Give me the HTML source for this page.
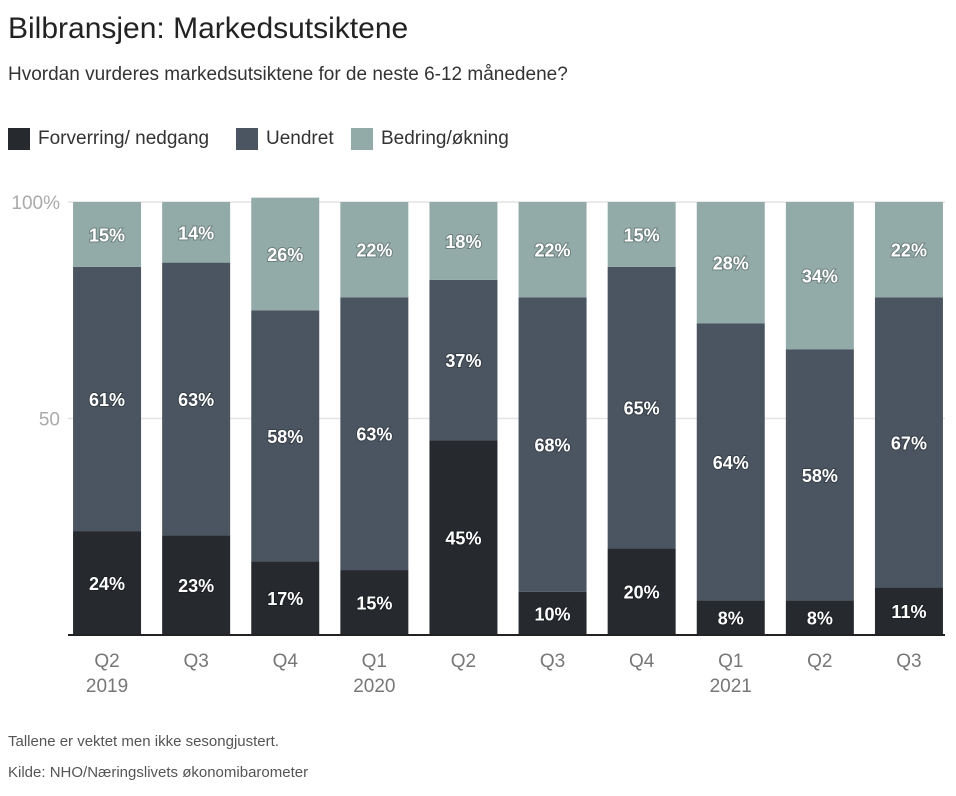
<!DOCTYPE html>
<html><head><meta charset="utf-8">
<style>
body{margin:0;width:956px;height:796px;background:#fff;font-family:"Liberation Sans",sans-serif;overflow:hidden}
#title{position:absolute;left:8px;top:12px;font-size:30px;color:#222}
#subtitle{position:absolute;left:8px;top:64px;font-size:19px;color:#333}
.leg{position:absolute;top:128px;font-size:19px;color:#333;display:flex;align-items:center}
.leg span{display:inline-block;width:22px;height:22px;margin-right:8px}
.note{position:absolute;left:8px;font-size:15px;color:#555}
svg{position:absolute;left:0;top:0}
</style></head><body>
<div id="title">Bilbransjen: Markedsutsiktene</div>
<div id="subtitle">Hvordan vurderes markedsutsiktene for de neste 6-12 månedene?</div>
<div class="leg" style="left:8px"><span style="background:#262a2f"></span>Forverring/ nedgang</div>
<div class="leg" style="left:236px"><span style="background:#4a5561"></span>Uendret</div>
<div class="leg" style="left:351px"><span style="background:#93aba8"></span>Bedring/økning</div>
<svg id="chart" width="956" height="796"></svg>
<div class="note" style="top:733px">Tallene er vektet men ikke sesongjustert.</div>
<div class="note" style="top:764px">Kilde: NHO/Næringslivets økonomibarometer</div>
<script>
const quarters=["Q2","Q3","Q4","Q1","Q2","Q3","Q4","Q1","Q2","Q3"];
const years=["2019","","","2020","","","","2021","",""];
const worse=[24,23,17,15,45,10,20,8,8,11];
const same=[61,63,58,63,37,68,65,64,58,67];
const better=[15,14,26,22,18,22,15,28,34,22];
const yTicks=[50,100];
const yTickLabels=["50","100%"];
const NS="http://www.w3.org/2000/svg";
const svg=document.getElementById("chart");
const y0=635,y1=202,xs=62.5,step=89.1,bw=68;
const y=v=>y0-(v/100)*(y0-y1);
const xc=i=>xs+step*(i+0.5);
function mk(t,a){const e=document.createElementNS(NS,t);for(const k in a)e.setAttribute(k,a[k]);svg.appendChild(e);return e;}
yTicks.forEach((t,i)=>{
 const l=mk("line",{x1:68,x2:945,y1:y(t),y2:y(t),stroke:"#e4e4e4","stroke-width":1.5});
 
 
 const tx=mk("text",{x:60,y:y(t)+7,"text-anchor":"end","font-size":19,fill:"#aaa"});
 tx.textContent=yTickLabels[i];
 
 
});
const series=[[worse,"#262a2f","worse"],[same,"#4a5561","same"],[better,"#93aba8","better"]];
quarters.forEach((q,i)=>{
 let base=0;
 series.forEach(([arr,col,nm])=>{
  const v=arr[i];
  const r=mk("rect",{x:xc(i)-bw/2,y:y(base+v),width:bw,height:y(base)-y(base+v),fill:col});
  
  
  const t=mk("text",{x:xc(i),y:(y(base)+y(base+v))/2+7,"text-anchor":"middle","font-size":18,"font-weight":"bold",fill:"#fff",style:"paint-order:stroke;stroke:rgba(0,0,0,0.25);stroke-width:2px"});
  t.textContent=v+"%";
  
  
  base+=v;
 });
 const t=mk("text",{x:xc(i),y:667,"text-anchor":"middle","font-size":19,fill:"#777"});
 t.textContent=q;
 
 
 if(years[i]){const yt=mk("text",{x:xc(i),y:692,"text-anchor":"middle","font-size":19,fill:"#777"});
 yt.textContent=years[i];
 
 }
});
const ax=mk("line",{x1:68,x2:945,y1:y0,y2:y0,stroke:"#222","stroke-width":2});


</script>
</body></html>
